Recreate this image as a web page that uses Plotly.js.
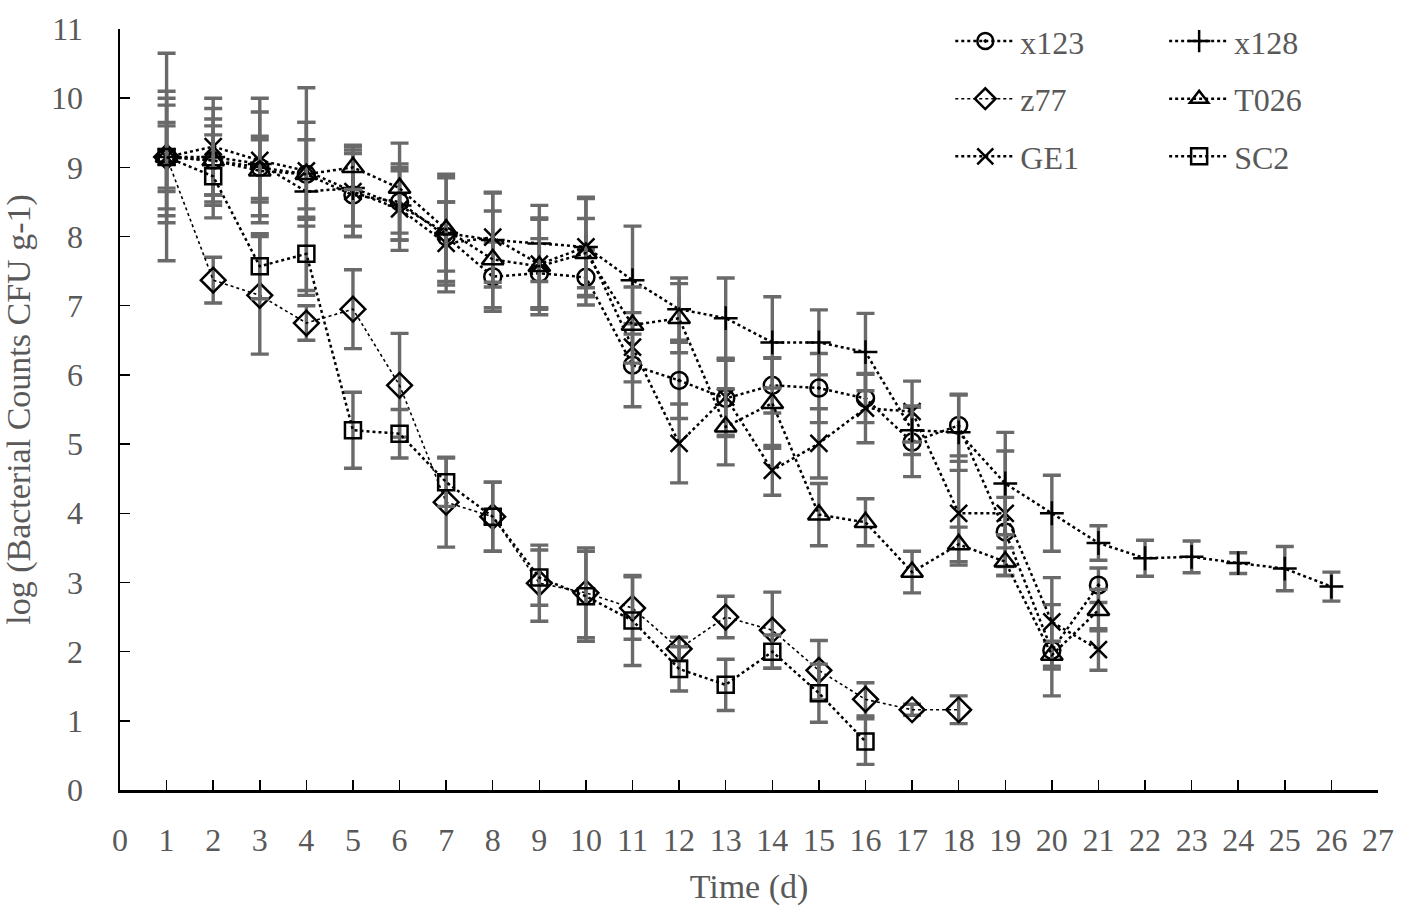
<!DOCTYPE html>
<html>
<head>
<meta charset="utf-8">
<script src="https://cdn.plot.ly/plotly-3.0.1.min.js"></script>
<style>html,body{margin:0;padding:0;background:#fff;}#chart{width:1412px;height:915px;}</style>
</head>
<body>
<div id="chart"></div>
<script>
// Days (x values)
const days21 = [1,2,3,4,5,6,7,8,9,10,11,12,13,14,15,16,17,18,19,20,21];
const days26 = [1,2,3,4,5,6,7,8,9,10,11,12,13,14,15,16,17,18,19,20,21,22,23,24,25,26];
const days18 = [1,2,3,4,5,6,7,8,9,10,11,12,13,14,15,16,17,18];
const days16 = [1,2,3,4,5,6,7,8,9,10,11,12,13,14,15,16];

// Series values: log(CFU g-1)
const x123 = [9.15,9.1,9.0,8.9,8.6,8.5,8.0,7.42,7.47,7.41,6.14,5.92,5.66,5.85,5.81,5.66,5.03,5.27,3.73,2.02,2.96];
const x123Err = [0.5,0.5,0.45,0.5,0.6,0.55,0.5,0.5,0.5,0.4,0.6,0.55,0.55,0.4,0.5,0.35,0.5,0.44,0.5,0.66,0.25];

const x128 = [9.15,9.15,9.05,8.65,8.7,8.45,8.05,7.95,7.9,7.85,7.37,6.95,6.82,6.47,6.47,6.33,5.2,5.17,4.43,4.0,3.57,3.35,3.37,3.28,3.2,2.94];
const x128Err = [0.95,0.7,0.75,1.5,0.55,0.5,0.85,0.68,0.55,0.72,0.78,0.45,0.58,0.66,0.47,0.56,0.35,0.55,0.74,0.55,0.25,0.26,0.23,0.15,0.32,0.21];

const z77 = [9.15,7.37,7.15,6.75,6.95,5.85,4.16,3.95,2.99,2.85,2.63,2.04,2.5,2.31,1.73,1.31,1.16,1.16];
const z77Err = [1.5,0.33,0.85,0.25,0.57,0.75,0.65,0.5,0.55,0.65,0.45,0.17,0.3,0.55,0.43,0.24,0.08,0.2];

const T026 = [9.15,9.1,8.95,8.9,9.0,8.7,8.1,7.67,7.57,7.76,6.72,6.82,5.25,5.59,3.98,3.87,3.15,3.55,3.3,1.95,2.6];
const T026Err = [0.85,0.6,0.45,0.75,0.32,0.65,0.75,0.7,0.7,0.5,0.55,0.5,0.55,0.65,0.45,0.34,0.3,0.25,0.2,0.2,0.3];

const GE1 = [9.15,9.3,9.1,8.95,8.65,8.4,7.9,7.99,7.6,7.85,6.4,5.01,5.68,4.62,5.01,5.52,5.47,4.0,4.0,2.43,2.03];
const GE1Err = [0.75,0.7,0.9,0.7,0.65,0.6,0.6,0.65,0.65,0.7,0.5,0.57,0.55,0.36,0.5,0.5,0.44,0.75,0.9,0.64,0.3];

const SC2 = [9.15,8.87,7.57,7.75,5.2,5.15,4.45,3.95,3.07,2.8,2.45,1.75,1.52,2.0,1.4,0.7];
const SC2Err = [0.45,0.6,0.47,0.53,0.55,0.35,0.35,0.5,0.4,0.65,0.65,0.32,0.37,0.24,0.42,0.33];

const serif = 'Liberation Serif, Times New Roman, serif';
const grey = '#595959';
const barColor = '#6a6a6a';

function mk(name, xs, ys, errs, symbol, lw, legend, group, msize) {
  return {
    type: 'scatter', mode: 'lines+markers', name: name,
    x: xs, y: ys,
    legend: legend, legendgroup: group,
    line: {color: '#000', width: lw, dash: 'dot'},
    marker: {symbol: symbol, size: msize, color: '#000', line: {color: '#000', width: 2.5}},
    error_y: {type: 'data', array: errs, visible: true, color: barColor, thickness: 3.4, width: 9}
  };
}

const data = [
  mk('x123', days21, x123, x123Err, 'circle-open-dot', 2.5, 'legend', 'g1', 17),
  mk('z77', days18, z77, z77Err, 'diamond-open', 1.6, 'legend', 'g2', 19),
  mk('GE1', days21, GE1, GE1Err, 'x-thin-open', 2.5, 'legend', 'g3', 17),
  mk('x128', days26, x128, x128Err, 'cross-thin-open', 2.5, 'legend2', 'g4', 17),
  mk('T026', days21, T026, T026Err, 'triangle-up-open', 2.5, 'legend2', 'g5', 19),
  mk('SC2', days16, SC2, SC2Err, 'square-open', 2.5, 'legend2', 'g6', 16)
];

const legendCommon = {
  orientation: 'v', yanchor: 'top', xanchor: 'left',
  font: {family: serif, size: 32, color: grey},
  bgcolor: 'rgba(0,0,0,0)', traceorder: 'grouped', tracegroupgap: 13,
  itemwidth: 60
};

const layout = {
  width: 1412, height: 915,
  paper_bgcolor: '#fff', plot_bgcolor: '#fff',
  margin: {l: 120, r: 34, t: 29, b: 125},
  showlegend: true,
  legend: Object.assign({}, legendCommon, {x: 0.66, y: 1.02}),
  legend2: Object.assign({}, legendCommon, {x: 0.83, y: 1.02}),
  xaxis: {
    range: [0, 27], tickmode: 'linear', tick0: 0, dtick: 1,
    ticks: 'inside', ticklen: 10, tickwidth: 1.5, tickcolor: '#000',
    showline: true, linecolor: '#000', linewidth: 2.5,
    showgrid: false, zeroline: false,
    tickfont: {family: serif, size: 32, color: grey},
    ticklabelstandoff: 20,
    title: {text: 'Time (d)', font: {family: serif, size: 34, color: grey}, standoff: 18}
  },
  yaxis: {
    range: [0, 11], tickmode: 'linear', tick0: 0, dtick: 1,
    ticks: 'inside', ticklen: 10, tickwidth: 1.5, tickcolor: '#000',
    showline: true, linecolor: '#000', linewidth: 2.5,
    showgrid: false, zeroline: false,
    tickfont: {family: serif, size: 32, color: grey},
    ticklabelstandoff: 28,
    title: {text: 'log (Bacterial Counts CFU g-1)', font: {family: serif, size: 34, color: grey}, standoff: 18}
  }
};

Plotly.newPlot('chart', data, layout, {displayModeBar: false, staticPlot: true});
</script>
</body>
</html>
